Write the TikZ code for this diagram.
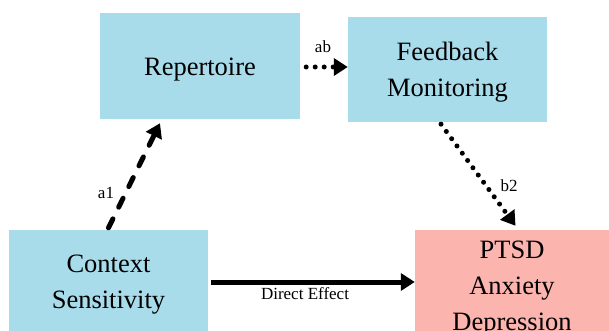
\documentclass[tikz,border=0pt]{standalone}
\usepackage{fontspec}
\setmainfont{Liberation Serif}
\usetikzlibrary{arrows.meta}
\definecolor{boxblue}{HTML}{A9DCEB}
\definecolor{boxpink}{HTML}{FCB4AE}
\tikzset{
  box/.style={draw=none, minimum width=#1, inner sep=0pt},
  boxtext/.style={inner sep=0pt, align=center, font=\fontsize{26.5}{36}\selectfont},
  lbl/.style={font=\fontsize{17}{20}\selectfont, inner sep=0pt},
  conn/.style={line width=5pt, -{Triangle[length=14pt,width=17pt]}},
  dotline/.style={conn, line cap=round, dash pattern=on 0pt off 9pt},
  dashline/.style={conn, line cap=round, dash pattern=on 10pt off 13pt},
}
\begin{document}
\begin{tikzpicture}[x=1pt,y=-1pt]
\useasboundingbox (0,0) rectangle (609,331);
\node[box=200pt, minimum height=106pt, fill=boxblue] (rep) at (200,66) {};
\node[box=199pt, minimum height=105pt, fill=boxblue] (fb) at (447.5,69.5) {};
\node[box=199pt, minimum height=104pt, fill=boxblue] (ctx) at (108.5,282) {};
\node[box=196pt, minimum height=112pt, fill=boxpink] (out) at (513,286) {};
\node[boxtext] (rept) at ([yshift=-3.5pt]rep.center) {Repertoire};
\node[boxtext] (fbt) at ([yshift=-3pt]fb.center) {Feedback\\Monitoring};
\node[boxtext] (ctxt) at ([yshift=-3pt]ctx.center) {Context\\Sensitivity};
\node[boxtext] (outt) at ([xshift=-1pt,yshift=-3pt]out.center) {PTSD\\Anxiety\\Depression};
\draw[dotline] ([xshift=6pt,yshift=-1pt]rep.east) -- ([yshift=2.5pt]fb.west);
\draw[dashline] ([yshift=2pt]ctx.north) -- ([xshift=-40pt,yshift=-4pt]rep.south);
\draw[dotline] ([xshift=-6.5pt,yshift=-2pt]fb.south) -- ([xshift=2.5pt,yshift=4pt]out.north);
\draw[conn] ([xshift=3pt]ctx.east) -- (out.west |- ctx.east);
\node[lbl] (lab) at (323,47) {ab};
\node[lbl] (la1) at (106,193) {a1};
\node[lbl] (lb2) at (509,186) {b2};
\node[lbl] (lde) at (305,294) {Direct Effect};
\end{tikzpicture}
\end{document}
